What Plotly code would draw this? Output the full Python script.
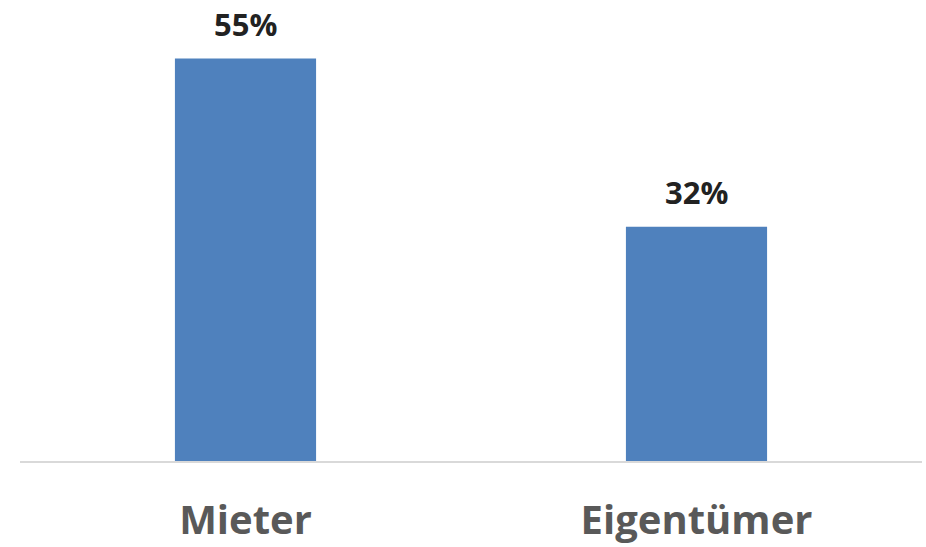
import plotly.graph_objects as go

categories = ["Mieter", "Eigentümer"]
values = [55, 32]
value_labels = ["55%", "32%"]

BAR_COLOR = "#4f81bd"

fig = go.Figure(
    go.Bar(
        x=categories,
        y=values,
        marker=dict(color=BAR_COLOR, line=dict(width=0)),
        hoverinfo="skip",
    )
)

# Value labels above each bar
for cat, val, lab in zip(categories, values, value_labels):
    fig.add_annotation(
        x=cat, y=val, text=f"<b>{lab}</b>", showarrow=False,
        yanchor="bottom", yshift=12,
        font=dict(family="Open Sans", size=31, color="#222222"),
    )

fig.update_layout(
    width=926, height=547,
    margin=dict(l=20, r=4, t=0, b=86),
    paper_bgcolor="white", plot_bgcolor="white",
    bargap=0.687,
    showlegend=False,
    xaxis=dict(
        showline=True, linecolor="#d9d9d9", linewidth=1.5,
        showgrid=False, ticks="",
        tickfont=dict(family="Open Sans", size=40, color="#595959"),
        ticklabelstandoff=23,
    ),
    yaxis=dict(
        range=[0, 63], visible=False, showgrid=False, zeroline=False,
    ),
)
fig.update_xaxes(tickvals=categories, ticktext=[f"<b>{c}</b>" for c in categories])

fig.write_html("out.html")
